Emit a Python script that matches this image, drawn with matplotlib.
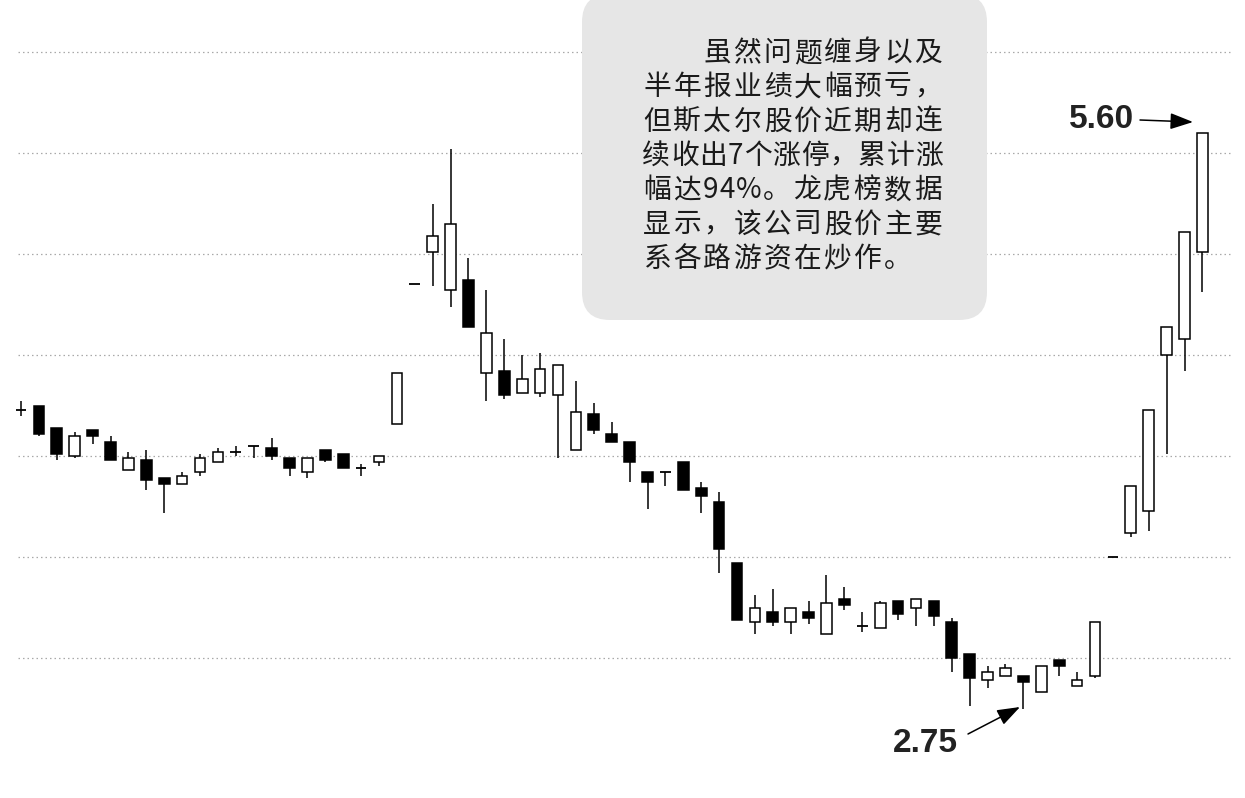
import matplotlib
matplotlib.use("Agg")
import matplotlib.pyplot as plt
from matplotlib.patches import FancyBboxPatch

plt.rcParams['font.family'] = ['Noto Sans CJK SC', 'DejaVu Sans']

# daily candles (price)
opens = [4.23, 4.25, 4.14, 4.00, 4.13, 4.07, 3.93, 3.98, 3.89, 3.86,
         3.92, 3.97, 4.02, 4.05, 4.04, 3.99, 3.92, 4.03, 4.01, 3.94,
         3.97, 4.16, 4.85, 5.01, 4.82, 4.87, 4.41, 4.42, 4.31, 4.31,
         4.30, 4.03, 4.21, 4.11, 4.07, 3.92, 3.92, 3.97, 3.84, 3.77,
         3.47, 3.18, 3.23, 3.18, 3.23, 3.12, 3.29, 3.16, 3.15, 3.28,
         3.25, 3.28, 3.18, 3.02, 2.89, 2.91, 2.91, 2.83, 2.99, 2.86,
         2.91, 3.50, 3.62, 3.73, 4.50, 4.58, 5.01]
highs = [4.27, 4.25, 4.14, 4.12, 4.13, 4.10, 4.02, 4.03, 3.89, 3.92,
         4.01, 4.04, 4.05, 4.05, 4.09, 3.99, 3.99, 4.03, 4.01, 3.96,
         4.00, 4.41, 4.85, 5.25, 5.52, 4.98, 4.82, 4.58, 4.50, 4.51,
         4.45, 4.37, 4.26, 4.17, 4.07, 3.92, 3.92, 3.97, 3.87, 3.82,
         3.47, 3.31, 3.34, 3.25, 3.28, 3.41, 3.35, 3.23, 3.28, 3.28,
         3.29, 3.28, 3.20, 3.02, 2.96, 2.97, 2.91, 2.96, 2.99, 2.93,
         3.18, 3.50, 3.85, 4.23, 4.64, 5.11, 5.60]
lows = [4.20, 4.10, 3.98, 3.99, 4.06, 3.98, 3.93, 3.83, 3.72, 3.86,
        3.90, 3.97, 4.00, 3.99, 3.98, 3.90, 3.89, 3.97, 3.94, 3.90,
        3.95, 4.16, 4.85, 4.84, 4.74, 4.64, 4.27, 4.28, 4.31, 4.29,
        3.99, 4.03, 4.11, 4.07, 3.87, 3.74, 3.85, 3.83, 3.72, 3.42,
        3.19, 3.12, 3.16, 3.12, 3.17, 3.12, 3.24, 3.13, 3.15, 3.19,
        3.16, 3.16, 2.93, 2.76, 2.85, 2.91, 2.75, 2.83, 2.91, 2.86,
        2.90, 3.50, 3.60, 3.63, 4.01, 4.42, 4.81]
closes = [4.23, 4.11, 4.01, 4.10, 4.10, 3.98, 3.99, 3.88, 3.86, 3.90,
          3.99, 4.02, 4.02, 4.05, 4.00, 3.94, 3.99, 3.98, 3.94, 3.94,
          4.00, 4.41, 4.85, 5.09, 5.15, 4.64, 4.61, 4.30, 4.38, 4.43,
          4.45, 4.22, 4.13, 4.07, 3.97, 3.87, 3.92, 3.83, 3.80, 3.54,
          3.19, 3.25, 3.18, 3.25, 3.20, 3.27, 3.26, 3.16, 3.27, 3.22,
          3.29, 3.21, 3.00, 2.90, 2.93, 2.95, 2.88, 2.96, 2.96, 2.89,
          3.18, 3.50, 3.85, 4.23, 4.64, 5.11, 5.60]
grid_levels = [3.0, 3.5, 4.0, 4.5, 5.0, 5.5, 6.0]

note_lines = ["\u3000\u3000虽然问题缠身以及",
              "半年报业绩大幅预亏，",
              "但斯太尔股价近期却连",
              "续收出7个涨停，累计涨",
              "幅达94%。龙虎榜数据",
              "显示，该公司股价主要",
              "系各路游资在炒作。"]

W, H = 1245, 798
step = 17.9        # px per candle
ppu = 202.0        # px per 1.0 of price

fig = plt.figure(figsize=(W / 100, H / 100), dpi=100)
fig.patch.set_facecolor("white")
ax = fig.add_axes([0, 0, 1, 1])
ax.set_xlim(-21 / step, (W - 21) / step)
ax.set_ylim(3 - (H - 658) / ppu, 3 + 658 / ppu)
ax.axis("off")

ax.hlines(grid_levels, -0.17, 67.6, colors="#a9a9a9",
          linestyles=(0, (1.2, 2.4)), linewidth=0.9, zorder=1)

bw = 0.6
for i, (o, h, l, c) in enumerate(zip(opens, highs, lows, closes)):
    ax.vlines(i, l, h, colors="black", linewidth=1.1, zorder=2)
    if abs(c - o) < 0.005:
        ax.hlines(o, i - bw / 2, i + bw / 2, colors="black", linewidth=1.3, zorder=3)
    else:
        fc = "white" if c > o else "black"
        ax.bar(i, c - o, bottom=o, width=bw, color=fc, edgecolor="black",
               linewidth=1.1, zorder=3)

# overlay in pixel units for the note box and labels
ov = fig.add_axes([0, 0, 1, 1])
ov.set_xlim(0, W)
ov.set_ylim(H, 0)
ov.axis("off")

box = FancyBboxPatch((582, -6), 405, 326, boxstyle="round,pad=0,rounding_size=28",
                     fc="#e6e6e6", ec="none", zorder=1)
ov.add_patch(box)


def char_units(ch):
    if ch == "%":
        return 0.85
    if ord(ch) < 128:
        return 0.55
    return 1.0


left, right, unit = 642, 943, 30.1
for k, line in enumerate(note_lines):
    units = [char_units(ch) for ch in line]
    total = sum(units)
    s = (right - left) / total if k < len(note_lines) - 1 else unit
    pos = 0.0
    for ch, u in zip(line, units):
        ov.text(left + (pos + u / 2) * s, 53 + 34.3 * k, ch, fontsize=20,
                ha="center", va="center", color="#1a1a1a", zorder=2)
        pos += u

hi_label = "%.2f" % max(highs)
lo_label = "%.2f" % min(lows)
arrow = dict(arrowstyle="-|>,head_length=0.7,head_width=0.25", mutation_scale=20,
             lw=1.1, color="black", shrinkA=0, shrinkB=0)

ov.text(1101, 120, hi_label, fontsize=24, family="Liberation Sans", weight="bold",
        ha="center", va="center", color="#222222")
ov.annotate("", xy=(1193, 122), xytext=(1140, 120), arrowprops=arrow)

ov.text(925, 744, lo_label, fontsize=24, family="Liberation Sans", weight="bold",
        ha="center", va="center", color="#222222")
ov.annotate("", xy=(1020, 707), xytext=(968, 734), arrowprops=arrow)

fig.savefig("out.png", dpi=100)
